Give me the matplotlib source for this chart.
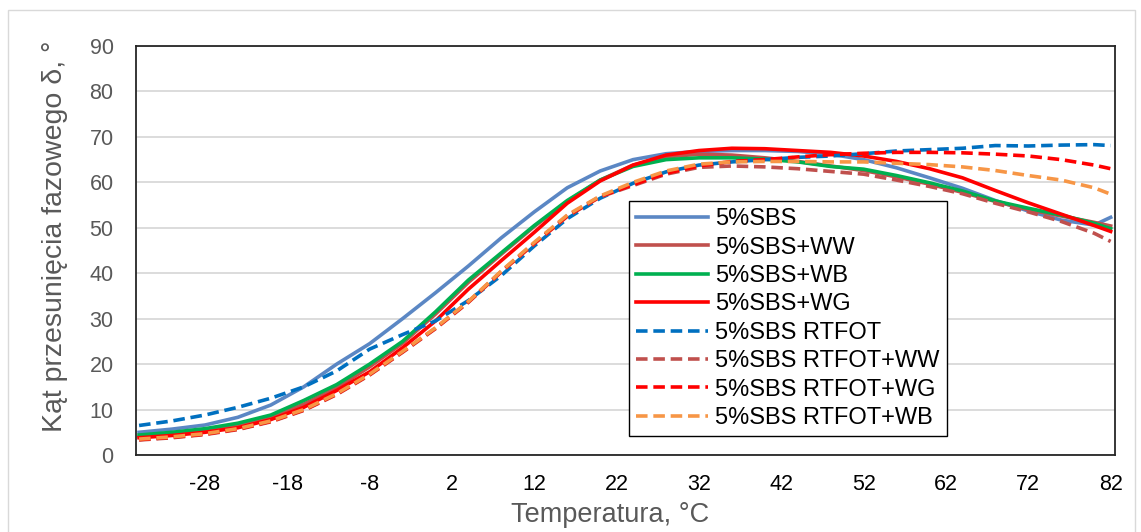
import matplotlib.pyplot as plt
from matplotlib.patches import Rectangle

plt.rcParams['font.family'] = ['Liberation Sans', 'DejaVu Sans']
plt.rcParams['axes.unicode_minus'] = False

# temperatura (°C)
temp = [-36, -32, -28, -24, -20, -16, -12, -8, -4, 0, 4, 8, 12, 16, 20, 24, 28,
        32, 36, 40, 44, 48, 52, 56, 60, 64, 68, 72, 76, 80, 82]

# kat przesuniecia fazowego (odczyt z wykresu)
sbs = [5.0, 5.7, 6.6, 8.3, 11.0, 15.0, 20.0, 24.5, 30.0, 35.7, 41.6, 47.8, 53.5,
       58.8, 62.5, 65.0, 66.3, 66.8, 67.0, 67.0, 66.8, 66.2, 65.0, 63.2, 61.0,
       58.7, 56.0, 53.7, 51.7, 50.6, 52.3]
sbs_ww = [4.0, 4.6, 5.4, 6.6, 8.3, 11.2, 14.8, 19.4, 24.6, 31.0, 38.0, 44.2, 50.3,
          55.8, 60.5, 63.8, 65.6, 66.2, 66.0, 65.4, 64.6, 63.6, 62.6, 61.2, 59.6,
          57.8, 55.8, 54.0, 52.6, 51.2, 50.4]
sbs_wb = [4.4, 5.0, 5.8, 7.0, 8.8, 12.0, 15.5, 20.0, 25.0, 31.5, 38.5, 44.5, 50.5,
          56.0, 60.5, 63.5, 65.0, 65.4, 65.4, 65.1, 64.5, 63.5, 62.9, 61.5, 59.9,
          58.1, 55.9, 54.3, 52.8, 51.0, 49.8]
sbs_wg = [3.8, 4.3, 5.0, 6.0, 7.8, 10.5, 14.2, 18.3, 23.6, 29.5, 36.5, 42.8, 49.0,
          55.4, 60.3, 63.8, 66.0, 67.0, 67.5, 67.4, 67.0, 66.6, 65.8, 64.6, 63.0,
          61.0, 58.2, 55.5, 53.0, 50.5, 49.2]
rt = [6.5, 7.5, 8.8, 10.5, 12.5, 15.0, 18.5, 23.3, 26.5, 29.5, 34.0, 39.5, 46.0,
      52.0, 56.5, 59.8, 62.3, 63.8, 64.5, 65.0, 65.5, 65.8, 66.3, 66.9, 67.2,
      67.5, 68.1, 68.0, 68.2, 68.3, 68.1]
rt_ww = [3.3, 3.8, 4.5, 5.6, 7.3, 9.8, 13.3, 17.6, 22.6, 27.8, 33.6, 40.3, 46.5,
         52.5, 56.8, 59.3, 61.8, 63.3, 63.6, 63.4, 63.0, 62.4, 61.8, 60.5, 59.1,
         57.5, 55.4, 53.5, 51.4, 48.8, 47.0]
rt_wg = [3.4, 3.9, 4.6, 5.7, 7.4, 9.9, 13.4, 17.7, 22.7, 27.9, 33.7, 40.4, 46.6,
         52.6, 56.9, 59.5, 62.0, 63.6, 64.6, 65.0, 65.6, 66.1, 66.4, 66.6, 66.6,
         66.5, 66.2, 65.8, 65.0, 63.8, 63.0]
rt_wb = [3.5, 4.0, 4.7, 5.8, 7.5, 10.0, 13.5, 17.8, 22.8, 28.0, 33.8, 40.5, 46.8,
         52.8, 57.0, 60.0, 62.5, 64.0, 64.5, 64.6, 64.6, 64.5, 64.5, 64.2, 63.9,
         63.4, 62.6, 61.5, 60.5, 58.8, 57.4]

xticks = [-28, -18, -8, 2, 12, 22, 32, 42, 52, 62, 72, 82]

fig = plt.figure(figsize=(11.41, 5.32), dpi=100)
ax = fig.add_axes([0.119, 0.1447, 0.858, 0.7688])

# ramka wokol calego wykresu
fig.patches.append(Rectangle((8 / 1141, -0.01), 1127 / 1141, 1.0 - 10 / 532 + 0.01,
                             transform=fig.transFigure, fill=False,
                             edgecolor='#D9D9D9', linewidth=1))

lw = 2.6
dash = (3.2, 1.6)
ax.plot(temp, sbs, color='#5B87C4', lw=lw, label='5%SBS')
ax.plot(temp, sbs_ww, color='#C0504D', lw=lw, label='5%SBS+WW')
ax.plot(temp, sbs_wb, color='#00B050', lw=lw, label='5%SBS+WB')
ax.plot(temp, sbs_wg, color='#FF0000', lw=lw, label='5%SBS+WG')
ax.plot(temp, rt, color='#0070C0', lw=lw, dashes=dash, label='5%SBS RTFOT')
ax.plot(temp, rt_ww, color='#C0504D', lw=lw, dashes=dash, label='5%SBS RTFOT+WW')
ax.plot(temp, rt_wg, color='#FF0000', lw=lw, dashes=dash, label='5%SBS RTFOT+WG')
ax.plot(temp, rt_wb, color='#F79646', lw=lw, dashes=dash, label='5%SBS RTFOT+WB')

ax.set_xlim(-36.4, 82.5)
ax.set_ylim(0, 90)
ax.set_yticks(range(0, 91, 10))
ax.set_xticks(xticks)
ax.grid(axis='y', color='#D9D9D9', linewidth=1.3)
ax.set_axisbelow(True)
for s in ax.spines.values():
    s.set_color('#262626')
    s.set_linewidth(1.3)
ax.tick_params(length=0, labelsize=15.5)
ax.tick_params(axis='x', pad=14, labelcolor='black')
ax.tick_params(axis='y', pad=16, labelcolor='#595959')

ax.set_xlabel('Temperatura, °C', fontsize=19.5, color='#595959')
ax.set_ylabel('Kąt przesunięcia fazowego δ, °', fontsize=20.5, color='#595959')
ax.xaxis.set_label_coords(0.484, -0.147)
ax.yaxis.set_label_coords(-0.083, 0.535)
ax.xaxis.label.set_va('center')
ax.yaxis.label.set_va('center')

leg = ax.legend(loc='lower left', bbox_to_anchor=(0.5036, 0.0465), borderaxespad=0,
                fontsize=17, handlelength=3.06, handletextpad=0.3, labelspacing=0.27,
                fancybox=False, framealpha=1, edgecolor='black', borderpad=0.3)
leg.get_frame().set_linewidth(1)

plt.savefig('out.png', dpi=100)
